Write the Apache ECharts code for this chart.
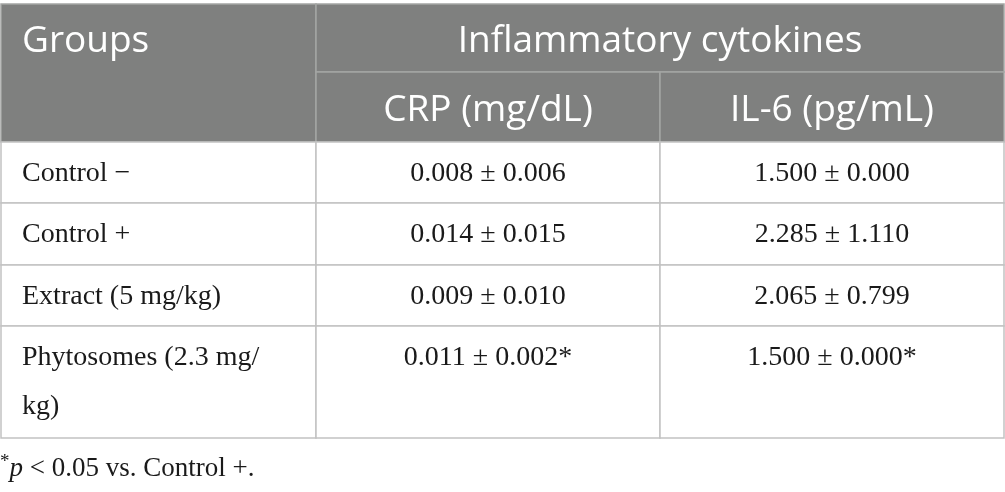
<html>
<head>
    <meta charset="UTF-8">
    <title>Inflammatory cytokines</title>
    <script src="https://cdn.jsdelivr.net/npm/echarts@6/dist/echarts.min.js"></script>
    <style>
        body { margin: 0; background: #fff; }
    </style>
</head>

<body>
    <div id="container" style="width: 1005px;height:492px;"></div>
</body>

<script>
    // table content
    var groupTitle = 'Groups';
    var spanTitle = 'Inflammatory cytokines';
    var columns = ['CRP (mg/dL)', 'IL-6 (pg/mL)'];
    var groups = ['Control \u2212', 'Control +', 'Extract (5 mg/kg)', 'Phytosomes (2.3 mg/\nkg)'];
    var crpMean = [0.008, 0.014, 0.009, 0.011];
    var crpSd = [0.006, 0.015, 0.010, 0.002];
    var il6Mean = [1.500, 2.285, 2.065, 1.500];
    var il6Sd = [0.000, 1.110, 0.799, 0.000];
    var significant = [false, false, false, true];
    var footnote = ' < 0.05 vs. Control +.';

    // layout of the grid (axis units = px)
    var colEdges = [1, 316, 660, 1004];
    var rowEdges = [4, 72, 142, 203, 265, 326, 438];

    var HEAD_FILL = '#7f807f';
    var HEAD_LINE = '#a4a5a4';
    var BODY_LINE = '#c2c2c2';
    var SANS = '"Open Sans", sans-serif';
    var SERIF = '"Liberation Serif", "Times New Roman", serif';

    function fmt(m, s, star) {
        return m.toFixed(3) + ' \u00b1 ' + s.toFixed(3) + (star ? '*' : '');
    }

    // cells: c, r, colSpan, rowSpan, text, head, align
    var cells = [];
    cells.push({ c: 0, r: 0, cs: 1, rs: 2, text: groupTitle, head: true, align: 'left' });
    cells.push({ c: 1, r: 0, cs: 2, rs: 1, text: spanTitle, head: true, align: 'center' });
    for (var j = 0; j < columns.length; j++) {
        cells.push({ c: j + 1, r: 1, cs: 1, rs: 1, text: columns[j], head: true, align: 'center' });
    }
    for (var i = 0; i < groups.length; i++) {
        cells.push({ c: 0, r: i + 2, cs: 1, rs: 1, text: groups[i], head: false, align: 'left' });
        cells.push({ c: 1, r: i + 2, cs: 1, rs: 1, text: fmt(crpMean[i], crpSd[i], significant[i]), head: false, align: 'center' });
        cells.push({ c: 2, r: i + 2, cs: 1, rs: 1, text: fmt(il6Mean[i], il6Sd[i], significant[i]), head: false, align: 'center' });
    }

    function renderCell(params, api) {
        var cell = cells[params.dataIndex];
        var p0 = api.coord([colEdges[cell.c], rowEdges[cell.r]]);
        var p1 = api.coord([colEdges[cell.c + cell.cs], rowEdges[cell.r + cell.rs]]);
        var x = p0[0], y = p0[1], w = p1[0] - p0[0], h = p1[1] - p0[1];
        var tx = cell.align === 'left' ? x + 21 : x + w / 2;
        var label;
        if (cell.head) {
            var rowH = rowEdges[cell.r + 1] - rowEdges[cell.r];
            label = {
                type: 'text',
                style: {
                    text: cell.text, x: tx, y: y + rowH / 2 + 3,
                    textAlign: cell.align, textVerticalAlign: 'middle',
                    fill: '#ffffff', fontSize: 37, fontFamily: SANS
                }
            };
        } else {
            label = {
                type: 'text',
                style: {
                    text: cell.text, x: tx, y: y + 7,
                    textAlign: cell.align, textVerticalAlign: 'top',
                    lineHeight: 49,
                    fill: '#1a1a1a', fontSize: 28, fontFamily: SERIF
                }
            };
        }
        return {
            type: 'group',
            children: [{
                type: 'rect',
                shape: { x: x, y: y, width: w, height: h },
                style: {
                    fill: cell.head ? HEAD_FILL : '#ffffff',
                    stroke: cell.head ? HEAD_LINE : BODY_LINE,
                    lineWidth: 1.5
                }
            }, label]
        };
    }

    var mycharts = echarts.init(document.getElementById('container'));
    var option = {
        animation: false,
        title: {
            left: 0,
            top: 453,
            padding: 0,
            text: '{s|*}{p|p}{t|' + footnote + '}',
            textStyle: {
                fontWeight: 'normal',
                rich: {
                    s: { fontSize: 19, fontFamily: SERIF, fontWeight: 'normal', color: '#1a1a1a', verticalAlign: 'top', lineHeight: 32 },
                    p: { fontSize: 27, fontFamily: SERIF, fontWeight: 'normal', fontStyle: 'italic', color: '#1a1a1a', lineHeight: 32 },
                    t: { fontSize: 27, fontFamily: SERIF, fontWeight: 'normal', color: '#1a1a1a', lineHeight: 32 }
                }
            }
        },
        grid: { left: 0, right: 0, top: 0, bottom: 0 },
        xAxis: { type: 'value', min: 0, max: 1005, show: false },
        yAxis: { type: 'value', min: 0, max: 492, inverse: true, show: false },
        series: [{
            type: 'custom',
            renderItem: renderCell,
            data: cells.map(function (d) { return [d.c, d.r]; }),
            silent: true,
            clip: false
        }]
    };
    mycharts.setOption(option);
</script>
</html>
